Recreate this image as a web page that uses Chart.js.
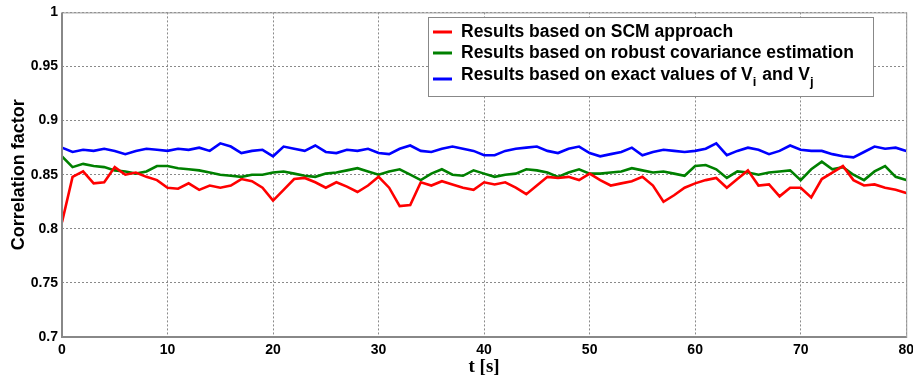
<!DOCTYPE html>
<html>
<head>
<meta charset="utf-8">
<script src="https://cdn.jsdelivr.net/npm/chart.js@4.4.1/dist/chart.umd.min.js"></script>
<style>
  html, body { margin: 0; padding: 0; background: #fff; overflow: hidden; }
  #wrap { width: 913px; height: 378px; overflow: hidden; }
</style>
</head>
<body>
<div id="wrap"><canvas id="c" width="919" height="378"></canvas></div>
<script>
// time axis, one sample per second
const tSec = [
  0, 1, 2, 3, 4, 5, 6, 7, 8, 9, 10, 11, 12, 13, 14, 15, 16, 17, 18, 19, 20,
  21, 22, 23, 24, 25, 26, 27, 28, 29, 30, 31, 32, 33, 34, 35, 36, 37, 38, 39, 40,
  41, 42, 43, 44, 45, 46, 47, 48, 49, 50, 51, 52, 53, 54, 55, 56, 57, 58, 59, 60,
  61, 62, 63, 64, 65, 66, 67, 68, 69, 70, 71, 72, 73, 74, 75, 76, 77, 78, 79, 80
];

const scmValues = [
  0.806, 0.848, 0.853, 0.842, 0.843, 0.857, 0.850, 0.852, 0.848, 0.845, 0.838,
  0.837, 0.842, 0.836, 0.840, 0.838, 0.840, 0.846, 0.844, 0.838, 0.826,
  0.836, 0.846, 0.847, 0.843, 0.838, 0.843, 0.839, 0.834, 0.840, 0.848,
  0.838, 0.821, 0.822, 0.843, 0.840, 0.844, 0.841, 0.838, 0.836, 0.843,
  0.841, 0.843, 0.838, 0.832, 0.840, 0.848, 0.847, 0.848, 0.845, 0.851,
  0.845, 0.840, 0.842, 0.844, 0.848, 0.840, 0.825, 0.831, 0.838, 0.842,
  0.845, 0.847, 0.838, 0.846, 0.854, 0.840, 0.841, 0.830, 0.838, 0.838,
  0.829, 0.846, 0.852, 0.858, 0.845, 0.840, 0.841, 0.838, 0.836, 0.833
];

const robustValues = [
  0.867, 0.857, 0.860, 0.858, 0.857, 0.854, 0.853, 0.851, 0.853, 0.858, 0.858,
  0.856, 0.855, 0.854, 0.852, 0.850, 0.849, 0.848, 0.850, 0.850, 0.852,
  0.853, 0.851, 0.849, 0.848, 0.851, 0.852, 0.854, 0.856, 0.853, 0.850,
  0.853, 0.855, 0.850, 0.845, 0.851, 0.855, 0.850, 0.849, 0.854, 0.851,
  0.848, 0.850, 0.851, 0.855, 0.854, 0.852, 0.848, 0.852, 0.855, 0.851,
  0.851, 0.852, 0.853, 0.856, 0.854, 0.852, 0.853, 0.851, 0.849, 0.858,
  0.859, 0.855, 0.847, 0.853, 0.852, 0.850, 0.852, 0.853, 0.854, 0.845,
  0.855, 0.862, 0.855, 0.857, 0.850, 0.845, 0.853, 0.858, 0.848, 0.845
];

const exactValues = [
  0.875, 0.871, 0.873, 0.872, 0.874, 0.872, 0.869, 0.872, 0.874, 0.873, 0.872,
  0.874, 0.873, 0.875, 0.872, 0.879, 0.876, 0.870, 0.872, 0.873, 0.867,
  0.876, 0.874, 0.872, 0.877, 0.871, 0.870, 0.873, 0.872, 0.874, 0.870,
  0.869, 0.874, 0.877, 0.872, 0.871, 0.874, 0.876, 0.874, 0.872, 0.868,
  0.868, 0.872, 0.874, 0.875, 0.876, 0.872, 0.870, 0.874, 0.876, 0.870,
  0.867, 0.869, 0.871, 0.875, 0.868, 0.871, 0.873, 0.872, 0.871, 0.872,
  0.874, 0.879, 0.868, 0.872, 0.875, 0.873, 0.869, 0.872, 0.877, 0.873,
  0.872, 0.872, 0.869, 0.867, 0.866, 0.871, 0.876, 0.874, 0.875, 0.872
];

const yTicks = [0.7, 0.75, 0.8, 0.85, 0.9, 0.95, 1];
const xTicks = [0, 10, 20, 30, 40, 50, 60, 70, 80];

// legend text, subscripts as [text, isSub] pieces
const legendRows = [
  [["Results based on SCM approach", false]],
  [["Results based on robust covariance estimation", false]],
  [["Results based on exact values of V", false], ["i", true], [" and V", false], ["j", true]]
];

const toPts = (vals) => vals.map((v, i) => ({ x: tSec[i], y: v }));

// plot frame like matlab box
const frame = {
  id: "frame",
  afterDraw(chart) {
    const { ctx, chartArea: a } = chart;
    ctx.save();
    ctx.strokeStyle = "#999";
    ctx.lineWidth = 1;
    ctx.strokeRect(a.left + 0.5, a.top + 0.5, a.right - a.left, a.bottom - a.top);
    ctx.strokeStyle = "#888";
    ctx.lineWidth = 2;
    ctx.beginPath();
    ctx.moveTo(a.left, a.top);
    ctx.lineTo(a.left, a.bottom);
    ctx.lineTo(a.right, a.bottom);
    ctx.stroke();
    ctx.restore();
  }
};

const boxLegend = {
  id: "boxLegend",
  afterDatasetsDraw(chart) {
    const ctx = chart.ctx;
    const x0 = 428, y0 = 17, w = 445, h = 79;
    ctx.save();
    ctx.fillStyle = "#fff";
    ctx.fillRect(x0, y0, w, h);
    ctx.strokeStyle = "#888";
    ctx.lineWidth = 1;
    ctx.strokeRect(x0 + 0.5, y0 + 0.5, w, h);
    const rowsY = [32, 53, 75];
    chart.data.datasets.forEach((ds, i) => {
      const y = rowsY[i];
      ctx.strokeStyle = ds.borderColor;
      ctx.lineWidth = 3;
      ctx.beginPath();
      ctx.moveTo(433, y + (i === 2 ? 4 : 0));
      ctx.lineTo(452, y + (i === 2 ? 4 : 0));
      ctx.stroke();
      let x = 461;
      ctx.fillStyle = "#000";
      ctx.textBaseline = "middle";
      legendRows[i].forEach(([txt, sub]) => {
        ctx.font = sub ? "bold 13px 'Liberation Sans'" : "bold 17.5px 'Liberation Sans'";
        ctx.fillText(txt, x, sub ? y + 7 : y);
        x += ctx.measureText(txt).width + (sub ? 1 : 0);
      });
    });
    ctx.restore();
  }
};

const tickFont = { family: "'Liberation Sans', Arial, sans-serif", size: 14, weight: "bold" };

new Chart(document.getElementById("c"), {
  type: "line",
  data: {
    datasets: [
      { label: "Results based on SCM approach", data: toPts(scmValues), borderColor: "#ff0000" },
      { label: "Results based on robust covariance estimation", data: toPts(robustValues), borderColor: "#008000" },
      { label: "Results based on exact values of Vi and Vj", data: toPts(exactValues), borderColor: "#0000ff" }
    ]
  },
  options: {
    responsive: false,
    animation: false,
    layout: { padding: { top: 11, right: 0, bottom: 0, left: 0 } },
    elements: {
      point: { radius: 0 },
      line: { borderWidth: 2.6, tension: 0 }
    },
    plugins: {
      legend: { display: false },
      tooltip: { enabled: false }
    },
    scales: {
      x: {
        type: "linear",
        min: 0,
        max: 80,
        afterBuildTicks: (s) => { s.ticks = xTicks.map((v) => ({ value: v })); },
        afterFit: (s) => { s.height = 41; },
        ticks: { font: tickFont, color: "#000", padding: 5, maxRotation: 0 },
        grid: { color: "#8a8a8a", lineWidth: 1, drawTicks: false },
        border: { display: false, dash: [2, 2] },
        title: {
          display: true,
          text: "t [s]",
          color: "#000",
          font: { family: "'Liberation Serif', 'Times New Roman', serif", size: 19, weight: "bold" },
          padding: { top: 0, bottom: 0 }
        }
      },
      y: {
        min: 0.7,
        max: 1,
        afterBuildTicks: (s) => { s.ticks = yTicks.map((v) => ({ value: v })); },
        afterFit: (s) => { s.width = 62; },
        ticks: {
          font: tickFont,
          color: "#000",
          padding: 4,
          callback: (v) => String(+v.toFixed(2))
        },
        grid: { color: "#8a8a8a", lineWidth: 1, drawTicks: false },
        border: { display: false, dash: [2, 2] },
        title: {
          display: true,
          text: "Correlation factor",
          color: "#000",
          font: { family: "'Liberation Sans', Arial, sans-serif", size: 18, weight: "bold" },
          padding: { top: 8, bottom: 0 }
        }
      }
    }
  },
  plugins: [frame, boxLegend]
});
</script>
</body>
</html>
